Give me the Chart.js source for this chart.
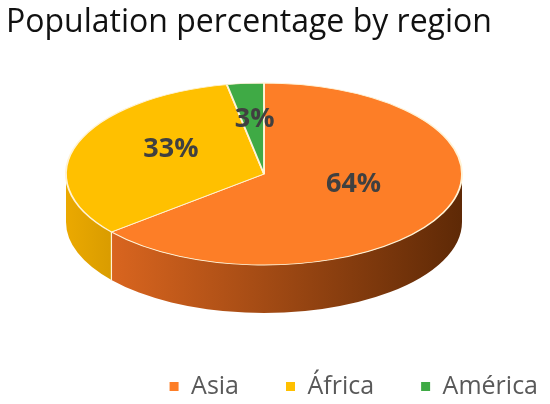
<!DOCTYPE html>
<html>
<head>
<meta charset="utf-8">
<title>Population percentage by region</title>
<script src="https://cdn.jsdelivr.net/npm/chart.js@4.4.1/dist/chart.umd.min.js"></script>
<style>
  html, body { margin: 0; padding: 0; background: #fff; }
  #wrap { width: 550px; height: 404px; }
</style>
</head>
<body>
<div id="wrap"><canvas id="pie"></canvas></div>
<script>
const regions = ['Asia', 'África', 'América'];
const populationShare = [64, 33, 3];
const topColors = ['#FD7E27', '#FFC000', '#3FAA45'];
// side wall gradient, left -> right
const sideColors = [['#D9651F', '#5E2906'], ['#EBA900', '#D99C00'], ['#2F8A35', '#1E5E22']];

// where the flat pie is squashed to, so it looks tilted
const tilt = { cx: 264, cy: 174, rx: 198, ry: 91, depth: 48, labelLift: -9 };
const edgeColor = '#FFF3D6';

const tiltPlugin = {
  id: 'tilt',
  afterLayout(chart) {
    // legend sits further right and lower than chart.js would put it
    const lg = chart.legend;
    lg.right += 35;
    lg.top += 5; lg.bottom += 5;
  },
  beforeDatasetsDraw(chart) {
    const arcs = chart.getDatasetMeta(0).data;
    if (!arcs.length) return;
    const ctx = chart.ctx;
    const { cx, cy, rx, ry, depth } = tilt;

    // side wall: only the front half (0..PI) shows
    arcs.forEach((arc, i) => {
      const a1 = Math.max(arc.startAngle, 0);
      const a2 = Math.min(arc.endAngle, Math.PI);
      if (a2 <= a1) return;
      const xa = cx + rx * Math.cos(a1), xb = cx + rx * Math.cos(a2);
      const g = ctx.createLinearGradient(Math.min(xa, xb), 0, Math.max(xa, xb), 0);
      g.addColorStop(0, sideColors[i][0]);
      g.addColorStop(1, sideColors[i][1]);
      ctx.beginPath();
      ctx.ellipse(cx, cy, rx, ry, 0, a1, a2);
      ctx.lineTo(cx + rx * Math.cos(a2), cy + depth + ry * Math.sin(a2));
      ctx.ellipse(cx, cy + depth, rx, ry, 0, a2, a1, true);
      ctx.closePath();
      ctx.fillStyle = g;
      ctx.fill();
    });

    // seams between slices on the wall
    ctx.strokeStyle = edgeColor;
    ctx.lineWidth = 1.2;
    arcs.forEach(arc => {
      const a = arc.startAngle;
      if (a <= 0 || a >= Math.PI) return;
      const x = cx + rx * Math.cos(a), y = cy + ry * Math.sin(a);
      ctx.beginPath();
      ctx.moveTo(x, y);
      ctx.lineTo(x, y + depth);
      ctx.stroke();
    });

    const R = arcs[0].outerRadius;
    ctx.save();
    ctx.translate(cx, cy);
    ctx.scale(rx / R, ry / R);
    ctx.translate(-arcs[0].x, -arcs[0].y);
  },
  afterDatasetsDraw(chart) {
    const arcs = chart.getDatasetMeta(0).data;
    if (!arcs.length) return;
    const ctx = chart.ctx;
    ctx.restore();
    const { cx, cy, rx, ry, labelLift } = tilt;
    const R = arcs[0].outerRadius;
    ctx.save();
    ctx.font = 'bold 27px "Open Sans"';
    ctx.fillStyle = '#404040';
    ctx.textAlign = 'center';
    ctx.textBaseline = 'middle';
    arcs.forEach((arc, i) => {
      const p = arc.getCenterPoint();
      const x = cx + (p.x - arc.x) * rx / R;
      const y = cy + (p.y - arc.y) * ry / R + labelLift;
      ctx.fillText(populationShare[i] + '%', x, y);
    });
    ctx.restore();
  }
};

const ctx = document.getElementById('pie').getContext('2d');
const chart = new Chart(ctx, {
  type: 'pie',
  data: {
    labels: regions,
    datasets: [{
      data: populationShare,
      backgroundColor: topColors,
      borderColor: edgeColor,
      borderWidth: 1.3,
      hoverOffset: 0,
      clip: false
    }]
  },
  options: {
    responsive: true,
    maintainAspectRatio: false,
    animation: false,
    events: [],
    layout: { padding: { left: 6, right: 0, top: 0, bottom: 0 } },
    plugins: {
      title: {
        display: true,
        text: 'Population percentage by region',
        align: 'start',
        color: '#111',
        font: { family: '"Open Sans"', size: 32, weight: 'normal' },
        padding: { top: 4, bottom: 10 }
      },
      legend: {
        position: 'bottom',
        align: 'end',
        labels: {
          color: '#595959',
          font: { family: '"Open Sans"', size: 25 },
          boxWidth: 9,
          boxHeight: 9,
          padding: 47,
          generateLabels(chart) {
            return Chart.overrides.pie.plugins.legend.labels.generateLabels(chart)
              .map(l => Object.assign(l, { lineWidth: 0 }));
          }
        }
      },
      tooltip: { enabled: false }
    }
  },
  plugins: [tiltPlugin]
});
</script>
</body>
</html>
